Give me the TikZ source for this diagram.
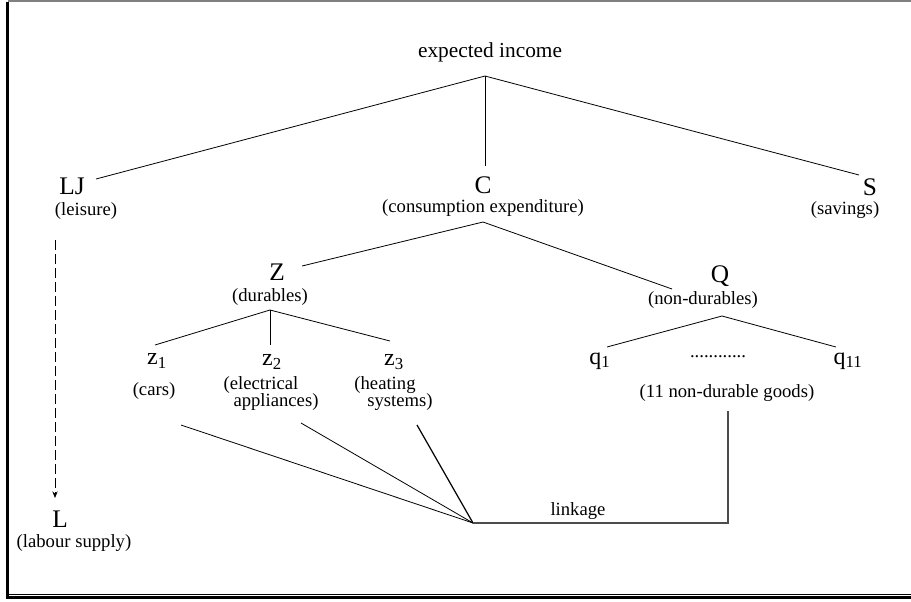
\documentclass[tikz,border=0pt]{standalone}
\usepackage{fontspec}
\setmainfont{Liberation Serif}
\usetikzlibrary{arrows.meta}
\begin{document}
\begin{tikzpicture}[x=0.75pt,y=-0.75pt,
 lbl/.style={inner sep=0pt, font=\fontsize{14}{16}\selectfont},
 big/.style={inner sep=0pt, font=\fontsize{19}{22}\selectfont},
 top/.style={inner sep=0pt, font=\fontsize{16}{19}\selectfont},
 var/.style={inner sep=0pt, font=\fontsize{18}{20}\selectfont},
 edge/.style={line width=0.6pt},
 link/.style={line width=0.9pt, draw=black!70}]
\useasboundingbox (0,0) rectangle (911,601);
% frame
\fill[gray] (8,0) rectangle (911,2);
\fill[black] (6,2) rectangle (8.5,599);
\fill[black] (8,593.5) rectangle (911,594.7);
\fill[black] (6,596) rectangle (911,599);

% nodes
\node[top] (inc) at (490,52) {expected income};
\node[big] (lj) at (72,186) {LJ};
\node[lbl] (leis) at (86,211) {(leisure)};
\node[big] (c) at (483,185) {C};
\node[lbl] (cons) at (483,208) {(consumption expenditure)};
\node[big] (s) at (870,187) {S};
\node[lbl] (sav) at (845,210) {(savings)};
\node[big] (z) at (277,272) {Z};
\node[lbl] (dur) at (270,297) {(durables)};
\node[big] (q) at (720,276) {Q};
\node[lbl] (ndur) at (703,300) {(non-durables)};
\node[var] (z1) at (157,361) {z\textsubscript{1}};
\node[lbl] (cars) at (154,391) {(cars)};
\node[var] (z2) at (272,362) {z\textsubscript{2}};
\node[lbl] (elec) at (261,385) {(electrical};
\node[lbl] (appl) at (276,402) {appliances)};
\node[var] (z3) at (394,362) {z\textsubscript{3}};
\node[lbl] (heat) at (385,385) {(heating};
\node[lbl] (sys) at (400,402) {systems)};
\node[var] (q1) at (600,361) {q\textsubscript{1}};
\node[lbl] (dots) at (718,357) {............};
\node[var] (q11) at (848,361) {q\textsubscript{11}};
\node[lbl] (goods) at (727,393) {(11 non-durable goods)};
\node[lbl] (lnk) at (578,511) {linkage};
\node[big] (l) at (60,519) {L};
\node[lbl] (lsup) at (74,543) {(labour supply)};

% coordinates
\coordinate (a0) at (485,76);
\coordinate (ljE) at (96,179);
\coordinate (sE) at (859,175);
\coordinate (cE) at (485,166);
\coordinate (a1) at (483,222);
\coordinate (zE) at (302,266);
\coordinate (qE) at (672,289);
\coordinate (a2) at (270,310);
\coordinate (z1E) at (155,345);
\coordinate (z2E) at (270,345);
\coordinate (z3E) at (390,341);
\coordinate (a3) at (722,316);
\coordinate (q1E) at (607,347);
\coordinate (q11E) at (836,347);
\coordinate (gS) at (728,411);
\coordinate (gC) at (728,523);
\coordinate (hub) at (473,523);
\coordinate (z1S) at (181,425);
\coordinate (z2S) at (301,423);
\coordinate (z3S) at (417,425);
\coordinate (ljS) at (55,240);
\coordinate (lN) at (55,498);

% connectors
\draw[edge] (ljE) -- (a0) -- (sE);
\draw[edge] (a0) -- (cE);
\draw[edge] (zE) -- (a1) -- (qE);
\draw[edge] (z1E) -- (a2) -- (z3E);
\draw[edge] (a2) -- (z2E);
\draw[edge] (q1E) -- (a3) -- (q11E);
\draw[edge] (z1S) -- (hub);
\draw[edge] (z2S) -- (hub);
\draw[line width=0.9pt] (z3S) -- (hub);
\draw[link] (gS) -- (gC) -- (hub);
\draw[line width=0.75pt, dash pattern=on 7.5pt off 3pt, -{Stealth[length=5pt,width=4pt]}] (ljS) -- (lN);
\end{tikzpicture}
\end{document}
